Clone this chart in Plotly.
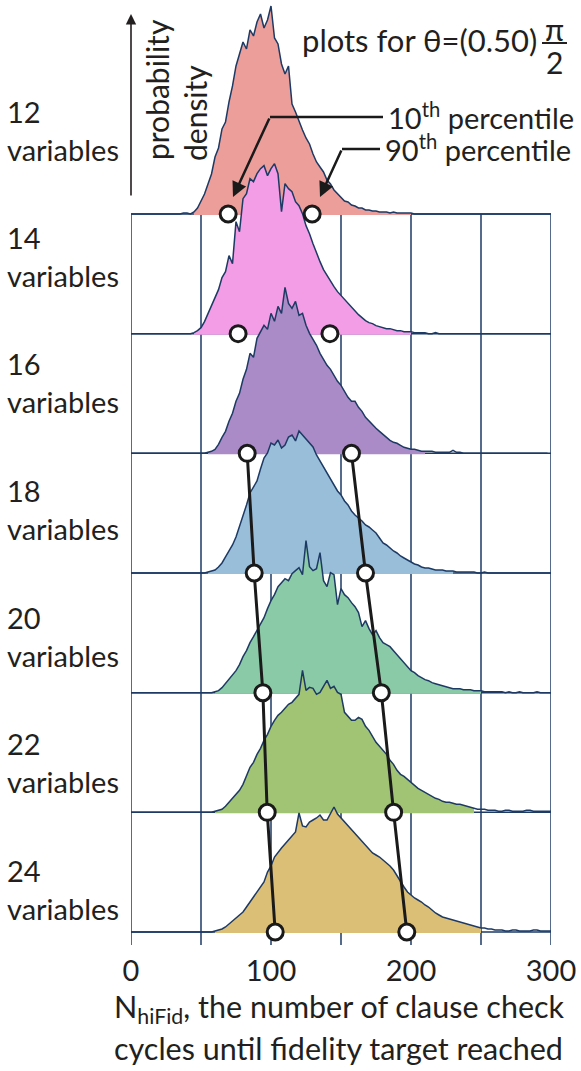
import plotly.graph_objects as go

# N_hiFid bin centres (2.5 wide) and estimated densities (height above each baseline)
bins = [i * 2.5 for i in range(121)]
labels = ["12", "14", "16", "18", "20", "22", "24"]

z = [0] * 2
d12 = (z * 7 + [0, 1, 1, 0, 2, 6,
       13, 20, 30, 40, 57, 66, 85, 92, 112, 128, 148, 160, 172, 165, 184, 178, 192, 200, 186, 194,
       208, 176, 170, 150, 140, 148, 110, 102, 92, 84, 76, 70, 60, 52, 47, 42, 34, 30, 24, 20,
       16, 13, 12, 9, 8, 6, 6, 4, 4, 3, 3, 2, 2, 2, 1, 2, 1, 1, 1, 1,
       1, 0] + [0] * 39)
d14 = (z * 9 + [1, 3,
       6, 12, 20, 28, 36, 44, 56, 62, 78, 70, 112, 102, 135, 140, 155, 152, 160, 165, 168, 158,
       165, 170, 160, 122, 150, 145, 142, 132, 128, 120, 108, 100, 90, 80, 72, 64, 58, 52, 47, 42,
       38, 34, 30, 26, 22, 19, 16, 13, 11, 10, 8, 7, 6, 5, 5, 4, 3, 3, 2, 2,
       2, 1, 1, 1, 1, 0, 0, 1] + [0] * 33)
d16 = (z * 11 + [1, 2, 4, 9, 16, 22, 32, 40, 52, 60, 74, 84, 100, 96, 115, 122, 128, 124,
       140, 132, 147, 140, 166, 150, 145, 152, 138, 140, 128, 120, 114, 108, 100, 94, 88, 84, 78, 72,
       68, 62, 56, 52, 52, 46, 42, 36, 32, 28, 25, 22, 19, 16, 13, 11, 10, 8, 6, 5,
       4, 4, 3, 2, 2, 2, 2, 1, 1, 1, 1, 1, 3, 1, 1, 0] + [0] * 24)
d18 = (z * 11 + [1, 2, 3, 6, 10, 16, 22, 28, 36, 46, 58, 68, 80, 86, 92, 104, 115, 120,
       130, 128, 133, 125, 128, 136, 138, 132, 142, 138, 134, 130, 126, 118, 112, 106, 100, 94, 88, 82,
       78, 72, 68, 62, 58, 55, 52, 48, 46, 43, 40, 35, 30, 28, 25, 22, 20, 17, 15, 13,
       11, 9, 8, 6, 5, 5, 4, 3, 3, 3, 2, 2, 2, 1, 1, 1, 1, 1, 1, 0, 0, 1] + [0] * 20)
d20 = (z * 12 + [1, 2, 5, 9, 13, 17, 22, 28, 36, 42, 50, 56, 62, 68, 75, 84,
       92, 98, 106, 110, 114, 112, 119, 122, 125, 118, 152, 126, 122, 124, 140, 112, 106, 120, 118, 88,
       104, 98, 95, 90, 86, 80, 66, 72, 64, 58, 62, 55, 50, 48, 46, 42, 38, 34, 30, 26,
       22, 20, 17, 15, 13, 12, 10, 9, 8, 7, 6, 5, 4, 4, 4, 3, 3, 3, 2, 2,
       2, 1, 1, 1, 1, 1, 1, 0, 1, 0, 0, 1, 0, 0, 0, 0, 1, 0, 0, 0, 0])
d22 = (z * 12 + [1, 2, 3, 6, 10, 13, 17, 22, 28, 36, 45, 50, 58, 64, 72, 78,
       86, 92, 97, 100, 104, 108, 110, 114, 118, 142, 122, 125, 124, 118, 120, 126, 132, 124, 126, 120,
       118, 100, 96, 92, 92, 95, 93, 86, 82, 76, 70, 66, 62, 58, 52, 48, 42, 38, 36, 33,
       30, 27, 24, 22, 20, 18, 16, 14, 13, 11, 10, 10, 9, 8, 8, 7, 6, 5, 4, 3,
       3, 3, 2, 2, 2, 1, 1, 2, 2, 1, 1, 1, 1, 2, 2, 1, 1, 1, 1, 1, 1])
d24 = (z * 12 + [1, 2, 3, 5, 8, 11, 14, 17, 20, 25, 30, 35, 40, 45, 50, 60,
       66, 75, 80, 84, 88, 92, 95, 100, 119, 106, 105, 110, 112, 114, 117, 112, 112, 118, 125, 118,
       114, 110, 106, 102, 98, 94, 90, 86, 82, 79, 77, 75, 72, 69, 66, 62, 56, 50, 45, 40,
       37, 34, 32, 30, 27, 25, 22, 19, 17, 15, 14, 13, 12, 11, 10, 9, 8, 7, 6, 5,
       4, 4, 3, 3, 2, 2, 2, 1, 1, 2, 2, 1, 1, 1, 1, 2, 2, 1, 1, 1, 1])
dens = [d12, d14, d16, d18, d20, d22, d24]

# filled range of each histogram
fill_lo = [45, 45, 55, 55, 60, 60, 60]
fill_hi = [200, 200, 210, 230, 250, 245, 250]

# 10th / 90th percentiles
p10 = [69.4, 76.5, 83.0, 88.0, 94.2, 97.3, 103.0]
p90 = [129.4, 142.1, 157.5, 167.5, 178.8, 187.6, 197.0]

fills = ["#ec9e9b", "#f29de6", "#aa8bc8", "#99bed9", "#8bcaa7", "#a0c474", "#dcbf76"]
navy = "#1d3a64"
ink = "#231f20"
font = "Lato"

step = 119.67
base = [(6 - i) * step for i in range(7)]

fig = go.Figure()

for i in range(7):
    b = base[i]
    idx = [k for k, x in enumerate(bins) if fill_lo[i] <= x <= fill_hi[i]]
    xs = [bins[k] for k in idx]
    ys = [b + dens[i][k] for k in idx]
    fig.add_trace(go.Scatter(x=[xs[0]] + xs + [xs[-1]], y=[b - 1] + ys + [b - 1],
                             fill="toself", fillcolor=fills[i], mode="lines",
                             line=dict(width=0), hoverinfo="skip", showlegend=False))
    fig.add_trace(go.Scatter(x=bins, y=[b + v for v in dens[i]], mode="lines",
                             line=dict(color=navy, width=1.5), hoverinfo="skip",
                             showlegend=False))

# percentile trend lines (16..24 variables) and markers
fig.add_trace(go.Scatter(x=p10[2:], y=base[2:], mode="lines",
                         line=dict(color="#1a1a1a", width=3), showlegend=False))
fig.add_trace(go.Scatter(x=p90[2:], y=base[2:], mode="lines",
                         line=dict(color="#1a1a1a", width=3), showlegend=False))
fig.add_trace(go.Scatter(x=p10 + p90, y=base + base, mode="markers",
                         marker=dict(size=16, color="white", line=dict(color="#1a1a1a", width=3)),
                         showlegend=False))

# grid: vertical lines + baselines
for gx in range(0, 301, 50):
    fig.add_shape(type="line", x0=gx, x1=gx, y0=-13, y1=base[0], layer="below",
                  line=dict(color=navy, width=1.5))
for b in base:
    fig.add_shape(type="line", x0=0, x1=300, y0=b, y1=b, layer="below",
                  line=dict(color=navy, width=1.5))


def py(p):
    # page pixel row -> y data value
    return 932 - p


def vx(p):
    return (p - 131) / 1.4


def ppx(p):
    # page pixel column -> paper x
    return (p - 131) / 420


def ppy(p):
    return (945 - p) / 945


def note(text, px, pyy, size=30, xa="left", ya="middle", **kw):
    fig.add_annotation(x=ppx(px), y=ppy(pyy), xref="paper", yref="paper", text=text,
                       showarrow=False, xanchor=xa, yanchor=ya,
                       font=dict(family=font, size=size, color=ink), **kw)


# row labels
for i, lab in enumerate(labels):
    note(lab + "<br>variables", 5, 130 + 126.5 * i, size=29, align="left")

# probability density arrow
fig.add_annotation(x=0, y=py(14), ax=0, ay=py(197), xref="x", yref="y", axref="x", ayref="y",
                   text="", showarrow=True, arrowhead=2, arrowsize=1.3, arrowwidth=1.6,
                   arrowcolor=ink)
note("probability", 157, 90, xa="center", textangle=-90)
note("density", 195, 113, xa="center", textangle=-90)

# title
note("plots for θ=(0.50)", 300, 40, size=31)
note("π", 554, 29, size=31, xa="center")
note("2", 554, 62, size=30, xa="center")
fig.add_shape(type="line", x0=ppx(542), x1=ppx(567), y0=ppy(43), y1=ppy(43), xref="paper",
              yref="paper", line=dict(color=ink, width=2))

# percentile callouts
fig.add_shape(type="line", x0=vx(270), x1=vx(383), y0=py(117), y1=py(117),
              line=dict(color="#1a1a1a", width=2.5))
fig.add_shape(type="line", x0=vx(342), x1=vx(380), y0=py(149), y1=py(149),
              line=dict(color="#1a1a1a", width=2.5))
fig.add_annotation(x=vx(233), y=py(197), ax=vx(270), ay=py(117), xref="x", yref="y",
                   axref="x", ayref="y", text="", showarrow=True, arrowhead=2, arrowsize=1.2,
                   arrowwidth=2.5, arrowcolor="#1a1a1a")
fig.add_annotation(x=vx(320), y=py(197), ax=vx(342), ay=py(149), xref="x", yref="y",
                   axref="x", ayref="y", text="", showarrow=True, arrowhead=2, arrowsize=1.2,
                   arrowwidth=2.5, arrowcolor="#1a1a1a")
note("10<sup>th</sup> percentile", 386, 116, size=29)
note("90<sup>th</sup> percentile", 383, 148, size=29)

# x axis title
note("N<sub>hiFid</sub>, the number of clause check", 112, 1009, size=30.5)
note("cycles until fidelity target reached", 112, 1048, size=30.5)

fig.update_layout(
    width=581, height=1071,
    margin=dict(l=131, r=30, t=0, b=126),
    plot_bgcolor="white", paper_bgcolor="white",
    showlegend=False,
)
fig.update_xaxes(range=[0, 300], tickvals=[0, 100, 200, 300], showgrid=False, zeroline=False,
                 showline=False, ticks="", ticklabelstandoff=6,
                 tickfont=dict(family=font, size=29, color=ink))
fig.update_yaxes(range=[-13, 932], showticklabels=False, showgrid=False, zeroline=False,
                 showline=False)

fig.write_html("out.html", config={"displayModeBar": False},
               post_script="document.body.style.margin='0';")
